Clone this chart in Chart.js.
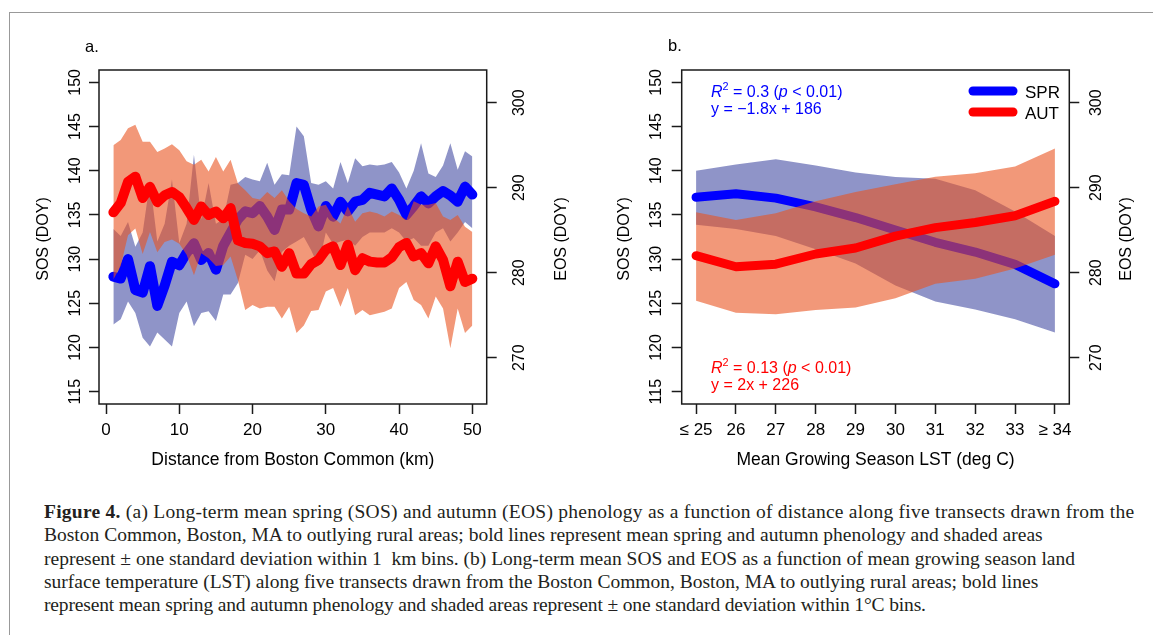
<!DOCTYPE html>
<html>
<head>
<meta charset="utf-8">
<script src="https://cdn.jsdelivr.net/npm/chart.js@4.4.0/dist/chart.umd.min.js"></script>
<style>
  body { margin: 0; background: #fff; }
  #fig { position: relative; width: 1153px; height: 635px; overflow: hidden; background: #fff; }
  #frame { position: absolute; left: 9px; top: 12px; width: 1200px; height: 700px;
           border-top: 1.5px solid #999; border-left: 1.5px solid #999; }
  .pane { position: absolute; top: 0; }
  #caption { position: absolute; left: 44px; top: 500px; font-family: "Liberation Serif", "Times New Roman", serif;
             font-size: 19.5px; line-height: 23.3px; color: #231f20; white-space: nowrap; }
</style>
</head>
<body>
<div id="fig">
  <div id="frame"></div>
  <div class="pane" style="left:0"><canvas id="panelA" width="580" height="470"></canvas></div>
  <div class="pane" style="left:580px"><canvas id="panelB" width="573" height="470"></canvas></div>
  <div id="caption">
    <div style="letter-spacing:0.25px"><b>Figure 4.</b> (a) Long-term mean spring (SOS) and autumn (EOS) phenology as a function of distance along five transects drawn from the</div>
    <div>Boston Common, Boston, MA to outlying rural areas; bold lines represent mean spring and autumn phenology and shaded areas</div>
    <div>represent ± one standard deviation within 1&ensp;km bins. (b) Long-term mean SOS and EOS as a function of mean growing season land</div>
    <div>surface temperature (LST) along five transects drawn from the Boston Common, Boston, MA to outlying rural areas; bold lines</div>
    <div style="letter-spacing:-0.15px">represent mean spring and autumn phenology and shaded areas represent ± one standard deviation within 1°C bins.</div>
  </div>
</div>
<script>
// panel a: 1 km distance bins
const kmBins = [1, 2, 3, 4, 5, 6, 7, 8, 9, 10, 11, 12, 13, 14, 15, 16, 17, 18, 19, 20,
  21, 22, 23, 24, 25, 26, 27, 28, 29, 30, 31, 32, 33, 34, 35, 36, 37, 38, 39, 40,
  41, 42, 43, 44, 45, 46, 47, 48, 49, 50];

// SOS (left axis)
const sprMean = [128.0, 127.8, 130.0, 126.5, 126.2, 129.2, 124.7, 127.0, 129.7, 129.3,
  130.7, 131.8, 129.9, 130.7, 128.8, 131.5, 133.0, 134.5, 135.4, 135.2,
  136.0, 134.8, 133.3, 135.6, 135.6, 138.6, 138.4, 135.6, 133.7, 136.0,
  134.8, 136.5, 135.4, 136.5, 136.7, 137.5, 137.3, 137.1, 138.0, 136.7,
  135.0, 136.0, 137.1, 136.3, 137.1, 137.7, 137.2, 136.5, 138.2, 137.3];
const sprUpper = [133.4, 132.6, 134.2, 131.4, 133.0, 138.8, 132.0, 134.0, 139.0, 131.8,
  134.0, 141.8, 134.5, 138.6, 134.0, 134.5, 138.4, 138.6, 139.3, 139.0,
  138.8, 140.9, 138.4, 139.6, 139.5, 145.0, 143.9, 138.6, 138.4, 138.8,
  138.0, 141.0, 138.6, 141.4, 140.5, 140.7, 140.6, 140.7, 141.0, 139.8,
  138.0, 140.0, 143.1, 139.7, 139.3, 140.6, 143.1, 140.1, 142.2, 141.6];
const sprLower = [122.6, 123.2, 125.2, 123.9, 121.1, 120.1, 121.7, 120.9, 120.1, 123.9,
  125.2, 122.4, 123.9, 124.1, 123.0, 126.0, 126.0, 127.3, 130.5, 130.0,
  131.0, 128.7, 127.5, 130.8, 131.5, 132.0, 132.5, 131.0, 129.2, 133.0,
  131.7, 132.0, 132.2, 131.5, 132.5, 133.0, 133.0, 133.0, 133.5, 133.0,
  132.0, 132.4, 131.5, 131.5, 133.0, 133.5, 132.0, 133.0, 134.2, 133.5];

// EOS (right axis)
const autMean = [287.1, 288.2, 290.7, 291.3, 288.8, 290.1, 288.3, 289.1, 289.5, 288.9,
  287.6, 286.2, 287.8, 286.8, 287.2, 286.4, 287.6, 283.8, 283.5, 283.4,
  283.1, 282.3, 282.5, 280.7, 282.3, 279.9, 279.9, 281.0, 281.5, 282.7,
  283.1, 280.9, 283.3, 280.3, 281.7, 281.3, 281.2, 281.2, 281.8, 283.0,
  283.5, 281.9, 282.3, 281.1, 283.1, 281.5, 278.4, 281.3, 278.9, 279.3];
const autUpper = [295.0, 295.6, 297.0, 297.4, 295.4, 295.4, 294.2, 294.6, 295.1, 294.4,
  293.1, 292.7, 293.3, 291.9, 293.6, 291.9, 293.3, 290.5, 289.7, 288.8,
  288.6, 289.5, 288.8, 289.7, 288.4, 287.5, 287.0, 286.6, 287.8, 288.0,
  286.5, 285.8, 287.8, 286.0, 287.0, 287.2, 287.0, 286.6, 287.2, 286.8,
  286.2, 288.4, 288.0, 288.0, 288.2, 286.6, 286.2, 286.8, 285.4, 284.8];
const autLower = [279.2, 280.8, 284.4, 285.2, 282.2, 284.8, 282.4, 283.6, 283.9, 283.4,
  282.1, 279.7, 282.3, 281.7, 280.8, 280.9, 281.9, 279.1, 275.6, 276.2,
  275.8, 276.0, 276.0, 274.6, 276.0, 272.9, 273.8, 275.5, 275.6, 277.8,
  278.2, 276.0, 278.2, 275.0, 275.6, 275.0, 275.2, 275.4, 275.8, 278.2,
  278.9, 276.8, 276.2, 274.6, 277.2, 275.8, 271.1, 275.8, 272.9, 273.8];

// panel b: 1 degree LST bins
const lstBins = [25, 26, 27, 28, 29, 30, 31, 32, 33, 34];
const lstTickLabels = ['≤ 25', '26', '27', '28', '29', '30', '31', '32', '33', '≥ 34'];
const sprMeanB = [137.0, 137.4, 136.9, 135.9, 134.7, 133.3, 131.9, 130.8, 129.4, 127.2];
const sprUpperB = [140.0, 140.7, 141.3, 140.6, 139.8, 139.3, 139.1, 137.8, 135.4, 132.6];
const sprLowerB = [133.9, 133.4, 132.6, 131.1, 129.5, 127.0, 125.2, 124.3, 123.2, 121.7];
const autMeanB = [282.0, 280.7, 281.0, 282.2, 282.9, 284.3, 285.3, 285.9, 286.7, 288.4];
const autUpperB = [287.1, 286.2, 287.0, 288.4, 289.5, 290.4, 291.3, 291.7, 292.5, 294.6];
const autLowerB = [276.7, 275.3, 275.1, 275.6, 275.9, 277.0, 278.7, 279.3, 280.5, 282.1];

const seriesNames = ['SPR', 'AUT'];
const sprFit = { r2: '0.3', p: '0.01', eq: 'y = \u22121.8x + 186' };
const autFit = { r2: '0.13', p: '0.01', eq: 'y = 2x + 226' };

const SANS = '"Liberation Sans", Arial, Helvetica, sans-serif';
const BLUE = '#0000ff';
const RED = '#ff0000';
const BLUE_BAND = 'rgba(31, 41, 145, 0.5)';
const RED_BAND = 'rgba(233, 83, 32, 0.6)';
const INK = '#1a1a1a';

Chart.defaults.font.family = SANS;
Chart.defaults.font.size = 16;
Chart.defaults.color = '#000';

function drawRich(ctx, parts, x, y, size) {
  let cx = x;
  for (const [t, s] of parts) {
    const fs = s === 'sup' ? size * 0.68 : size;
    ctx.font = (s === 'i' ? 'italic ' : '') + fs + 'px ' + SANS;
    ctx.fillText(t, cx, s === 'sup' ? y - size * 0.42 : y);
    cx += ctx.measureText(t).width;
  }
}

const decor = {
  id: 'decor',
  afterDraw(chart, args, o) {
    const { ctx, chartArea: a } = chart;
    ctx.save();
    ctx.strokeStyle = INK;
    ctx.lineWidth = 1.5;
    ctx.strokeRect(a.left, a.top, a.right - a.left, a.bottom - a.top);

    ctx.fillStyle = '#000';
    ctx.font = '16.5px ' + SANS;
    ctx.textAlign = 'left';
    ctx.textBaseline = 'alphabetic';
    ctx.fillText(o.letter, o.letterX, o.letterY);

    ctx.textAlign = 'center';
    ctx.textBaseline = 'middle';
    ctx.font = '17.5px ' + SANS;
    ctx.fillText(o.xTitle, (a.left + a.right) / 2, o.xTitleY);
    ctx.font = '16px ' + SANS;
    const midY = (a.top + a.bottom) / 2 + 2;
    [[o.yTitle, o.yTitleX], [o.y2Title, o.y2TitleX]].forEach(([t, x]) => {
      ctx.save();
      ctx.translate(x, midY);
      ctx.rotate(-Math.PI / 2);
      ctx.fillText(t, 0, 0);
      ctx.restore();
    });

    if (o.legend) {
      const L = o.legend;
      ctx.lineCap = 'round';
      ctx.lineWidth = 9;
      ctx.textAlign = 'left';
      ctx.textBaseline = 'alphabetic';
      ctx.font = '17px ' + SANS;
      L.items.forEach((it, i) => {
        const y = L.y + i * L.gap;
        ctx.strokeStyle = it.color;
        ctx.beginPath();
        ctx.moveTo(L.x, y);
        ctx.lineTo(L.x + 40, y);
        ctx.stroke();
        ctx.fillStyle = '#000';
        ctx.fillText(it.label, L.x + 52, y + 6.5);
      });
    }

    if (o.notes) {
      ctx.textAlign = 'left';
      ctx.textBaseline = 'alphabetic';
      o.notes.forEach(n => {
        ctx.fillStyle = n.color;
        drawRich(ctx, [['R', 'i'], ['2', 'sup'], [' = ' + n.fit.r2 + ' (', ''], ['p', 'i'], [' < ' + n.fit.p + ')', '']], n.x, n.y, 16);
        drawRich(ctx, [[n.fit.eq, '']], n.x, n.y + 16.5, 16);
      });
    }
    ctx.restore();
  }
};

function axisCommon() {
  return {
    border: { display: false },
    grid: { drawOnChartArea: false, drawTicks: true, tickLength: 10, tickColor: INK, tickWidth: 1.5 }
  };
}

function band(data, axis, color, fillFrom, order) {
  return {
    data: data, yAxisID: axis, borderWidth: 0, borderColor: 'transparent',
    backgroundColor: color, pointRadius: 0, fill: fillFrom, order: order, tension: 0
  };
}

function meanLine(label, data, axis, color, width, order) {
  return {
    label: label, data: data, yAxisID: axis, borderColor: color, borderWidth: width,
    borderCapStyle: 'round', borderJoinStyle: 'round', pointRadius: 0, fill: false,
    order: order, tension: 0
  };
}

function makePanel(id, cfg) {
  return new Chart(document.getElementById(id), {
    type: 'line',
    data: {
      labels: cfg.labels,
      datasets: [
        band(cfg.spr[2], 'y', 'transparent', false, 10),
        band(cfg.spr[1], 'y', BLUE_BAND, '-1', 9),
        meanLine(seriesNames[0], cfg.spr[0], 'y', BLUE, cfg.lw, 8),
        band(cfg.aut[2], 'y2', 'transparent', false, 7),
        band(cfg.aut[1], 'y2', RED_BAND, '-1', 6),
        meanLine(seriesNames[1], cfg.aut[0], 'y2', RED, cfg.lw, 1)
      ]
    },
    options: {
      responsive: false,
      animation: false,
      events: [],
      layout: { padding: { top: 70, left: 0, right: 0, bottom: 0 } },
      plugins: {
        legend: { display: false },
        tooltip: { enabled: false },
        decor: cfg.decor
      },
      scales: {
        x: {
          type: 'linear', min: cfg.xMin, max: cfg.xMax,
          afterFit: s => { s.height = 66; },
          ...axisCommon(),
          ticks: {
            stepSize: cfg.xStep, includeBounds: false, autoSkip: false, maxRotation: 0,
            padding: 6, color: '#000', font: { size: 17 },
            callback: cfg.xLabel
          }
        },
        y: {
          position: 'left', min: 113.6, max: 151.4,
          afterFit: s => { s.width = cfg.leftW; },
          ...axisCommon(),
          ticks: {
            stepSize: 5, includeBounds: false, minRotation: 90, maxRotation: 90,
            crossAlign: 'center', padding: cfg.yPad, color: '#000', font: { size: 16 }
          }
        },
        y2: {
          position: 'right', min: 264.55, max: 303.85,
          afterFit: s => { s.width = cfg.rightW; },
          ...axisCommon(),
          ticks: {
            stepSize: 10, includeBounds: false, minRotation: 90, maxRotation: 90,
            crossAlign: 'center', padding: cfg.y2Pad, color: '#000', font: { size: 16 }
          }
        }
      }
    },
    plugins: [decor]
  });
}

makePanel('panelA', {
  labels: kmBins,
  spr: [sprMean, sprUpper, sprLower],
  aut: [autMean, autUpper, autLower],
  lw: 10,
  xMin: -0.96, xMax: 51.96, xStep: 10,
  xLabel: v => String(v),
  leftW: 99, rightW: 93.3, yPad: 0, y2Pad: 10,
  decor: {
    letter: 'a.', letterX: 85, letterY: 52,
    xTitle: 'Distance from Boston Common (km)', xTitleY: 460,
    yTitle: 'SOS (DOY)', yTitleX: 44,
    y2Title: 'EOS (DOY)', y2TitleX: 561.5
  }
});

makePanel('panelB', {
  labels: lstBins,
  spr: [sprMeanB, sprUpperB, sprLowerB],
  aut: [autMeanB, autUpperB, autLowerB],
  lw: 9,
  xMin: 24.64, xMax: 34.36, xStep: 1,
  xLabel: v => lstTickLabels[lstBins.indexOf(v)],
  leftW: 101.7, rightW: 83.7, yPad: 1.7, y2Pad: 4,
  decor: {
    letter: 'b.', letterX: 88, letterY: 51,
    xTitle: 'Mean Growing Season LST (deg C)', xTitleY: 460,
    yTitle: 'SOS (DOY)', yTitleX: 45,
    y2Title: 'EOS (DOY)', y2TitleX: 547,
    legend: { x: 393, y: 91, gap: 21, items: [
      { label: seriesNames[0], color: BLUE },
      { label: seriesNames[1], color: RED }
    ] },
    notes: [
      { fit: sprFit, color: BLUE, x: 131, y: 97 },
      { fit: autFit, color: RED, x: 131, y: 373 }
    ]
  }
});
</script>
</body>
</html>
